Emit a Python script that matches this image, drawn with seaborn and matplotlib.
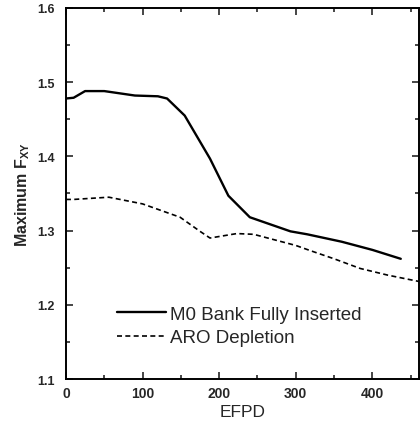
import matplotlib
matplotlib.use("Agg")
import matplotlib.pyplot as plt
import seaborn as sns
import pandas as pd
from matplotlib.ticker import MultipleLocator

sns.set_theme(style="ticks")
plt.rcParams['font.family'] = ['Liberation Sans', 'DejaVu Sans']

# Data
efpd_m0 = [0, 10, 25, 50, 90, 120, 132, 155, 188, 212, 240, 293, 315, 360, 400, 437]
fxy_m0 = [1.478, 1.479, 1.488, 1.488, 1.482, 1.481, 1.478, 1.455, 1.397, 1.347, 1.318, 1.299, 1.295, 1.285, 1.274, 1.262]

efpd_aro = [0, 10, 56, 100, 149, 175, 188, 223, 245, 300, 319, 350, 384, 420, 463]
fxy_aro = [1.342, 1.342, 1.345, 1.336, 1.318, 1.299, 1.290, 1.296, 1.295, 1.280, 1.273, 1.262, 1.249, 1.240, 1.231]

series_names = ["M0 Bank Fully Inserted", "ARO Depletion"]

df = pd.concat([
    pd.DataFrame({"EFPD": efpd_m0, "Fxy": fxy_m0, "Case": series_names[0]}),
    pd.DataFrame({"EFPD": efpd_aro, "Fxy": fxy_aro, "Case": series_names[1]}),
])

fig = plt.figure(figsize=(4.2, 4.27), dpi=100)
ax = fig.add_axes([0.157, 0.110, 0.841, 0.869])

sns.lineplot(data=df, x="EFPD", y="Fxy", hue="Case", style="Case",
             palette=["black", "black"],
             dashes={series_names[0]: "", series_names[1]: (3, 2)},
             sort=False, estimator=None, ax=ax, legend=True)
for ln, lw in zip(ax.lines, [1.7, 1.2]):
    ln.set_linewidth(lw)

ax.set_xlim(0, 461)
ax.set_ylim(1.1, 1.6)
ax.xaxis.set_major_locator(MultipleLocator(100))
ax.xaxis.set_minor_locator(MultipleLocator(50))
ax.yaxis.set_major_locator(MultipleLocator(0.1))
ax.yaxis.set_minor_locator(MultipleLocator(0.05))
ax.tick_params(which="both", direction="in", top=True, right=True,
               labelsize=9, width=1.2)
ax.tick_params(which="major", length=5)
ax.tick_params(which="minor", length=3)
ax.tick_params(axis="y", which="major", pad=8)
ax.tick_params(axis="x", which="major", pad=5, labelsize=10)
for lab in ax.get_xticklabels() + ax.get_yticklabels():
    lab.set_fontweight("bold")
for sp in ax.spines.values():
    sp.set_linewidth(1.4)
    sp.set_color("black")

ax.set_xlabel("EFPD", fontsize=12.5, labelpad=3)
ax.set_ylabel("Maximum F$_{\\mathregular{XY}}$", fontsize=11.5,
              fontweight="bold", labelpad=4)

leg = ax.legend(loc="lower left", bbox_to_anchor=(0.123, 0.068), frameon=False,
                fontsize=13.5, handlelength=2.6, handletextpad=0.25,
                labelspacing=0.35, borderaxespad=0)
for h, lw in zip(leg.get_lines(), [1.7, 1.2]):
    h.set_linewidth(lw)
    h.set_color("black")

fig.savefig("out.png", dpi=100)
